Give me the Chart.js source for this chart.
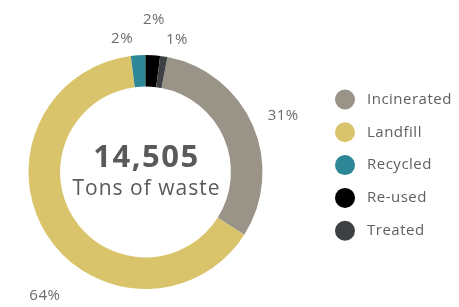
<!DOCTYPE html>
<html>
<head>
<meta charset="utf-8">
<script src="https://cdn.jsdelivr.net/npm/chart.js@4/dist/chart.umd.min.js"></script>
<style>
    html, body { margin: 0; padding: 0; background: #ffffff; }
    #wrap { width: 459px; height: 307px; position: relative; }
</style>
</head>
<body>
<div id="wrap"><canvas id="waste-chart" width="459" height="307"></canvas></div>
<script>
// Chart data
const categories = ['Incinerated', 'Landfill', 'Recycled', 'Re-used', 'Treated'];
const shares = [31, 64, 2, 2, 1];
const totalTons = '14,505';
const centerCaption = 'Tons of waste';

// Styling
const colors = ['#9a9387', '#d9c46b', '#2e8797', '#000000', '#3e4144'];
const labelNudge = [[0, 3], [26, 43], [-14, 16], [-1, -3], [8, 16]];
const fontFamily = '"Open Sans", sans-serif';

/**
 * Percent labels around the ring, placed from each arc's mid angle
 */
const outerLabels = {
    id: 'outerLabels',
    afterDatasetsDraw(chart) {
        const ctx = chart.ctx;
        const meta = chart.getDatasetMeta(0);
        ctx.save();
        ctx.font = '15px ' + fontFamily;
        ctx.letterSpacing = '0.5px';
        ctx.fillStyle = '#6b6b6b';
        ctx.textAlign = 'center';
        ctx.textBaseline = 'middle';
        meta.data.forEach((arc, i) => {
            const mid = (arc.startAngle + arc.endAngle) / 2;
            const r = arc.outerRadius + 33;
            const x = arc.x + Math.cos(mid) * r + labelNudge[i][0];
            const y = arc.y + Math.sin(mid) * r + labelNudge[i][1];
            ctx.fillText(shares[i] + '%', x, y);
        });
        ctx.restore();
    }
};

/**
 * Total in the hole of the doughnut
 */
const centerText = {
    id: 'centerText',
    afterDraw(chart) {
        const ctx = chart.ctx;
        const arc = chart.getDatasetMeta(0).data[0];
        ctx.save();
        ctx.textAlign = 'center';
        ctx.textBaseline = 'middle';
        ctx.fillStyle = '#5a5a5a';
        ctx.font = 'bold 31px ' + fontFamily;
        ctx.letterSpacing = '1.5px';
        ctx.fillText(totalTons, arc.x + 1, arc.y - 14);
        ctx.fillStyle = '#595959';
        ctx.font = '21px ' + fontFamily;
        ctx.letterSpacing = '1px';
        ctx.fillText(centerCaption, arc.x + 1, arc.y + 17);
        ctx.restore();
    }
};

/**
 * Legend column on the right
 */
const sideLegend = {
    id: 'sideLegend',
    afterDraw(chart) {
        const ctx = chart.ctx;
        ctx.save();
        ctx.textBaseline = 'middle';
        ctx.font = '15px ' + fontFamily;
        ctx.letterSpacing = '0.5px';
        categories.forEach((name, i) => {
            const y = 99.5 + i * 32.8;
            ctx.beginPath();
            ctx.arc(345, y, 10, 0, Math.PI * 2);
            ctx.fillStyle = colors[i];
            ctx.fill();
            ctx.fillStyle = '#5f5f5f';
            ctx.fillText(name, 367, y);
        });
        ctx.restore();
    }
};

new Chart(document.getElementById('waste-chart'), {
    type: 'doughnut',
    data: {
        labels: categories,
        datasets: [{
            data: shares,
            backgroundColor: colors,
            borderWidth: 0,
            hoverOffset: 0
        }]
    },
    options: {
        responsive: false,
        animation: false,
        cutout: '73%',
        rotation: 10.8,
        layout: {
            padding: { left: 28, right: 196, top: 55, bottom: 18 }
        },
        plugins: {
            legend: { display: false },
            tooltip: { enabled: false }
        }
    },
    plugins: [outerLabels, centerText, sideLegend]
});
</script>
</body>
</html>
